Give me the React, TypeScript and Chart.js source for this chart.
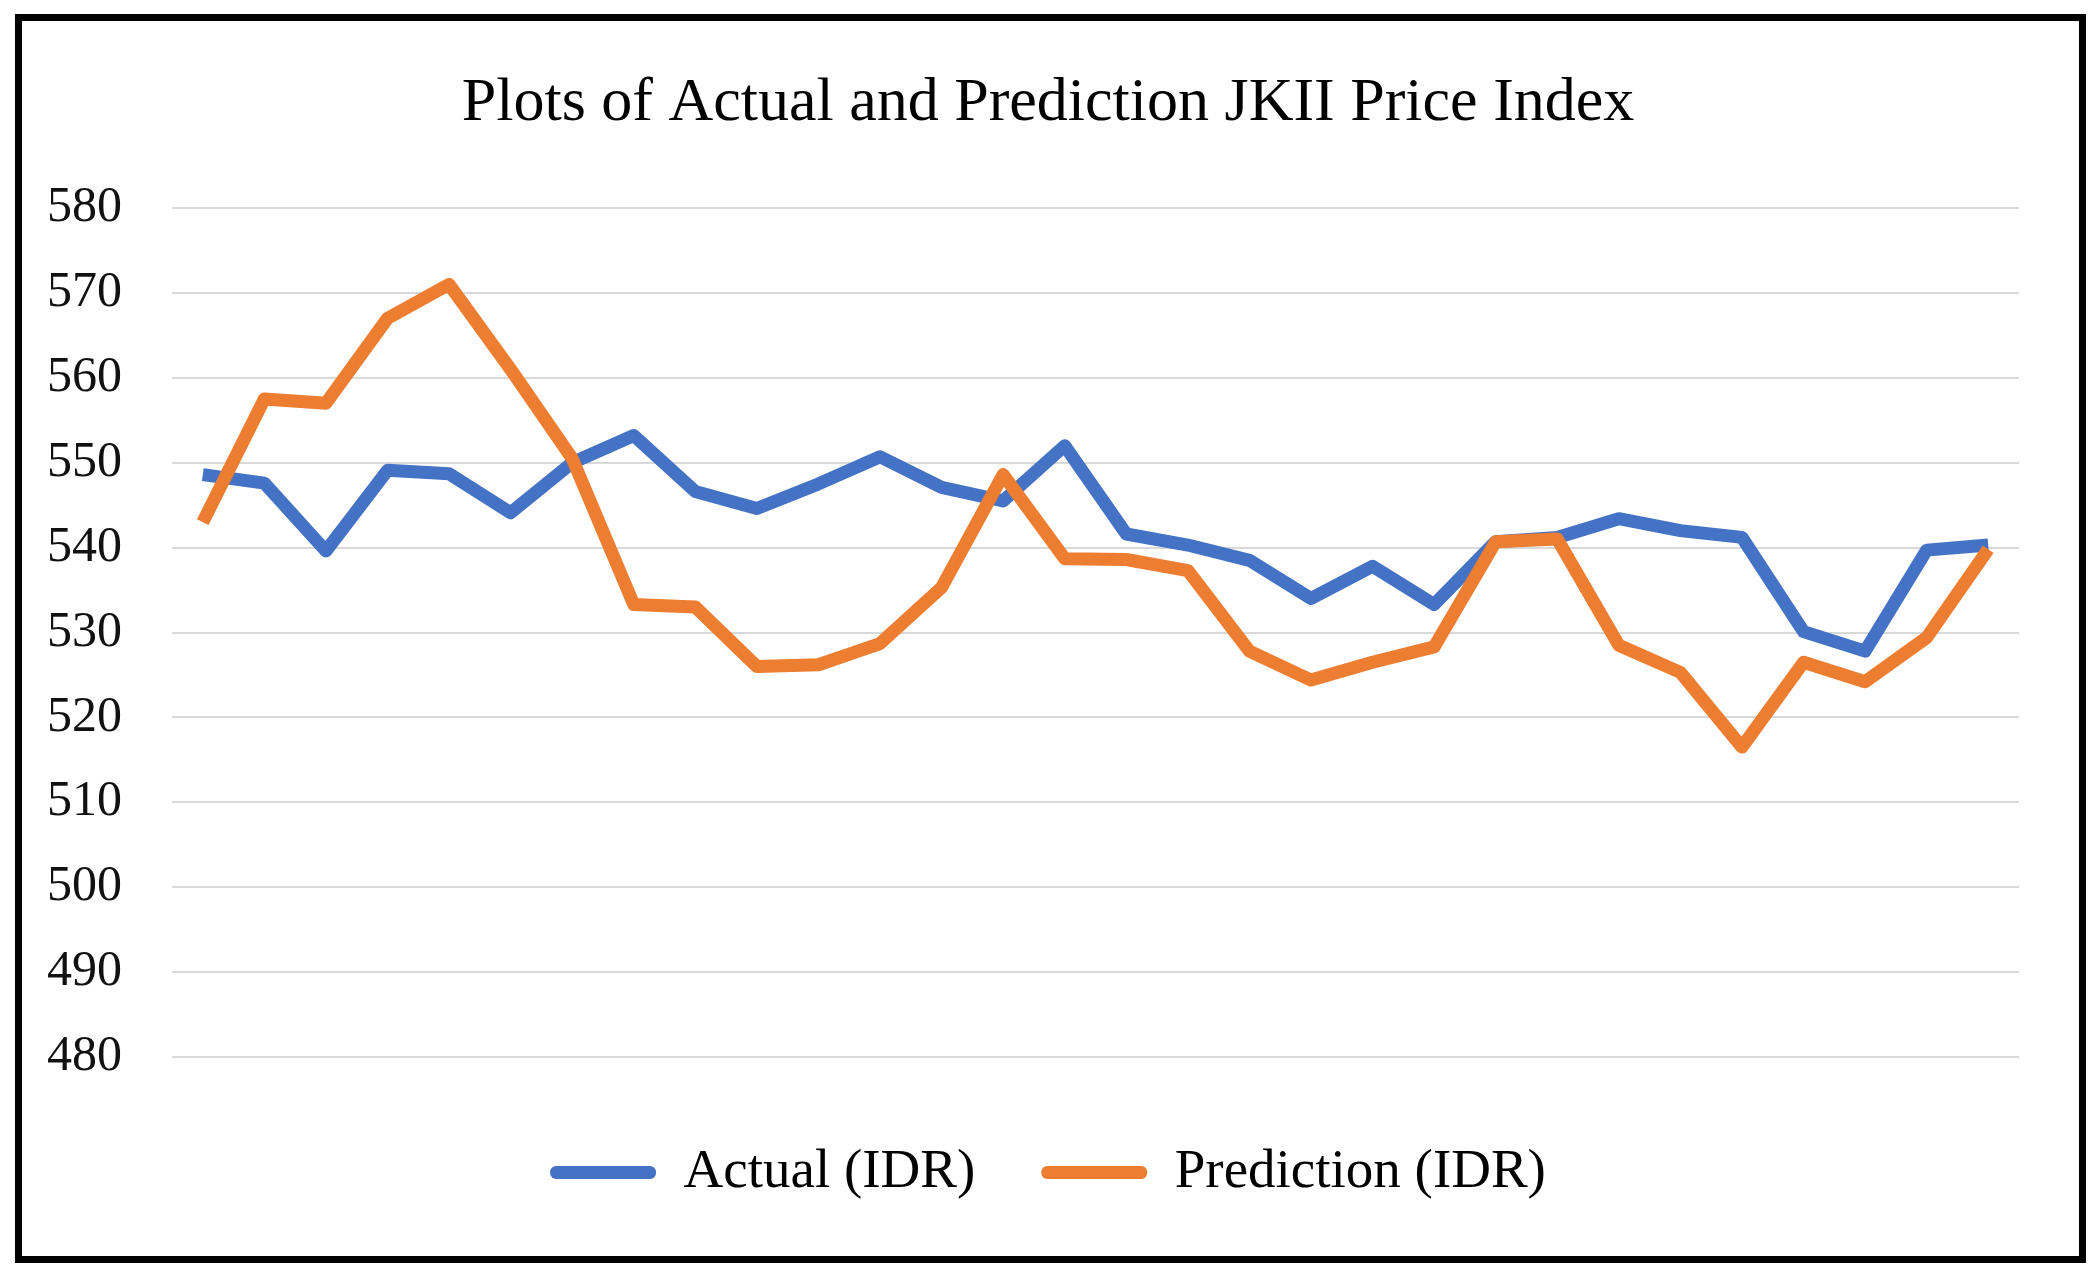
import { useEffect, useRef } from 'react';
import { Chart, registerables } from 'chart.js';

Chart.register(...registerables);

const categories = [
  '1', '2', '3', '4', '5', '6', '7', '8', '9', '10',
  '11', '12', '13', '14', '15', '16', '17', '18', '19', '20',
  '21', '22', '23', '24', '25', '26', '27', '28', '29', '30',
];

const actualValues = [
  548.6, 547.6, 539.6, 549.1, 548.7, 544.1, 550.0, 553.2, 546.6, 544.6,
  547.5, 550.7, 547.1, 545.5, 552.0, 541.6, 540.3, 538.5, 534.0, 537.8,
  533.3, 540.7, 541.2, 543.4, 542.0, 541.2, 530.1, 527.8, 539.7, 540.3,
];

const predictionValues = [
  543.0, 557.5, 557.0, 567.0, 571.0, 561.0, 550.5, 533.3, 533.0, 526.0,
  526.2, 528.7, 535.3, 548.6, 538.7, 538.6, 537.3, 527.8, 524.4, 526.5,
  528.3, 540.7, 541.0, 528.5, 525.3, 516.5, 526.5, 524.2, 529.4, 539.8,
];

const seriesNames = ['Actual (IDR)', 'Prediction (IDR)'];
const titleText = 'Plots of Actual and Prediction JKII Price Index';
const yMin = 480;
const yMax = 580;
const yStep = 10;

const FONT = "'Liberation Serif', 'Times New Roman', serif";

export default function App() {
  const ref = useRef<HTMLCanvasElement>(null);

  useEffect(() => {
    if (!ref.current) return;
    const chart = new Chart(ref.current, {
      type: 'line',
      data: {
        labels: categories,
        datasets: [
          {
            label: seriesNames[0],
            data: actualValues,
            borderColor: '#4472C4',
            backgroundColor: '#4472C4',
            borderWidth: 13,
            pointRadius: 0,
            pointHoverRadius: 0,
            tension: 0,
            borderJoinStyle: 'round',
            borderCapStyle: 'butt',
            order: 1,
            yAxisID: 'y',
          },
          {
            label: seriesNames[1],
            data: predictionValues,
            borderColor: '#ED7D31',
            backgroundColor: '#ED7D31',
            borderWidth: 13,
            pointRadius: 0,
            pointHoverRadius: 0,
            tension: 0,
            borderJoinStyle: 'round',
            borderCapStyle: 'butt',
            order: 0,
            yAxisID: 'y',
          },
        ],
      },
      options: {
        responsive: false,
        animation: false,
        devicePixelRatio: 1,
        layout: { padding: { top: 0, left: 20, right: 25, bottom: 46 } },
        plugins: {
          title: {
            display: true,
            text: titleText,
            color: '#000',
            font: { family: FONT, size: 62, weight: 'normal', lineHeight: 1.2 },
            padding: { top: 46, bottom: 66.6 },
          },
          legend: {
            position: 'bottom',
            labels: {
              boxWidth: 106,
              boxHeight: 13,
              padding: 66,
              color: '#000',
              font: { family: FONT, size: 55 },
              useBorderRadius: true,
              borderRadius: 6,
              sort: (a: any, b: any) => a.datasetIndex - b.datasetIndex,
              generateLabels: (c: any) =>
                (Chart.defaults.plugins.legend.labels as any)
                  .generateLabels(c)
                  .map((l: any) => ({ ...l, lineWidth: 0, fillStyle: l.strokeStyle })),
            },
          },
          tooltip: { enabled: false },
        },
        scales: {
          x: {
            offset: true,
            grid: { display: false },
            border: { display: false },
            ticks: { display: false },
            afterFit: (s: any) => {
              s.height = 22;
            },
          },
          y: {
            position: 'left',
            min: yMin,
            max: yMax,
            ticks: {
              stepSize: yStep,
              padding: 50,
              color: '#111',
              font: { family: FONT, size: 50 },
            },
            grid: { color: '#D9D9D9', lineWidth: 2, drawTicks: false },
            border: { display: false },
            afterFit: (s: any) => {
              s.width = 130;
            },
          },
          yRight: {
            type: 'linear',
            position: 'right',
            min: 0,
            max: 1,
            grid: { display: false, drawTicks: false },
            border: { display: false },
            ticks: { display: false },
            afterFit: (s: any) => {
              s.width = 35;
            },
          },
        },
      },
    });
    return () => chart.destroy();
  }, []);

  return (
    <div
      style={{
        position: 'absolute',
        left: 0,
        top: 0,
        width: 2098,
        height: 1275,
        background: '#fff',
        overflow: 'hidden',
      }}
    >
      <canvas
        ref={ref}
        width={2057}
        height={1235}
        style={{ position: 'absolute', left: 22, top: 21, width: 2057, height: 1235 }}
      />
      <div
        style={{
          position: 'absolute',
          left: 15,
          top: 14,
          width: 2071,
          height: 1249,
          border: '7px solid #000',
          boxSizing: 'border-box',
          pointerEvents: 'none',
        }}
      />
    </div>
  );
}
